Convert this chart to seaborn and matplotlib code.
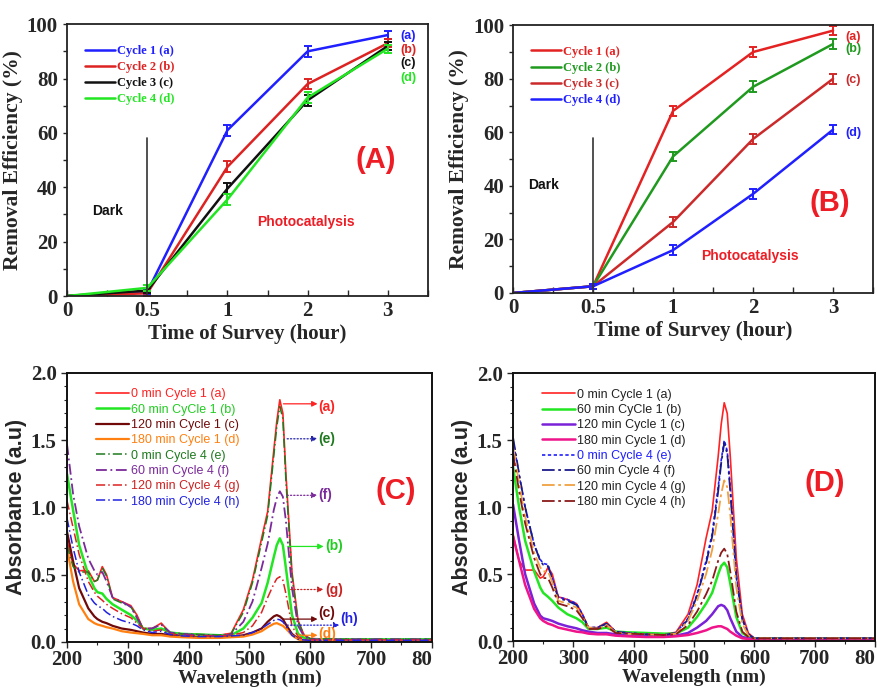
import numpy as np
import pandas as pd
import matplotlib
matplotlib.use("Agg")
import matplotlib.pyplot as plt
import seaborn as sns
from matplotlib.lines import Line2D
from matplotlib.ticker import MultipleLocator

sns.set_style("ticks")
plt.rcParams['font.family'] = ['Liberation Sans', 'DejaVu Sans']

# ---------------- data: panels A and B ----------------
time_labels = ['0', '0.5', '1', '2', '3']
A_names = ['Cycle 1 (a)', 'Cycle 2 (b)', 'Cycle 3 (c)', 'Cycle 4 (d)']
A_c1 = [0, 1.5, 61, 90, 96]
A_c2 = [0, 1.0, 47.5, 78, 93]
A_c3 = [0, 2.0, 39.5, 72, 92]
A_c4 = [0, 3.0, 35.5, 73, 91]
A_err = [0, 1.0, 2.0, 2.0, 1.5]

B_names = ['Cycle 1 (a)', 'Cycle 2 (b)', 'Cycle 3 (c)', 'Cycle 4 (d)']
B_c1 = [0, 2.5, 68, 90, 98]
B_c2 = [0, 2.5, 51, 77, 93]
B_c3 = [0, 2.5, 26.5, 57.5, 80]
B_c4 = [0, 2.5, 16, 37, 61]
B_err = [0, 1.0, 1.8, 2.0, 1.8]

# ---------------- data: panels C and D ----------------
wl = [200, 210, 220, 235, 245, 250, 258, 265, 275, 290, 305, 315, 325, 340, 355, 370, 390,
      420, 450, 470, 490, 505, 520, 530, 540, 545, 550, 555, 560, 570, 580, 590, 600, 650, 800]

C_labels = ['0 min Cycle 1 (a)', '60 min CyCle 1 (b)', '120 min Cycle 1 (c)', '180 min Cycle 1 (d)',
            '0 min Cycle 4 (e)', '60 min Cycle 4 (f)', '120 min Cycle 4 (g)', '180 min Cycle 4 (h)']
C_a = [0.75, 0.58, 0.53, 0.53, 0.45, 0.46, 0.56, 0.50, 0.33, 0.30, 0.27, 0.20, 0.10, 0.10, 0.14, 0.065, 0.06,
       0.055, 0.05, 0.065, 0.24, 0.46, 0.77, 0.97, 1.42, 1.64, 1.80, 1.70, 1.25, 0.52, 0.16, 0.05, 0.025, 0.02, 0.02]
C_b = [1.25, 0.98, 0.72, 0.50, 0.40, 0.37, 0.36, 0.32, 0.28, 0.24, 0.20, 0.16, 0.10, 0.09, 0.10, 0.07, 0.06,
       0.055, 0.05, 0.05, 0.10, 0.18, 0.29, 0.44, 0.63, 0.72, 0.77, 0.72, 0.55, 0.20, 0.06, 0.03, 0.02, 0.02, 0.02]
C_c = [0.82, 0.60, 0.40, 0.25, 0.19, 0.17, 0.15, 0.14, 0.12, 0.10, 0.09, 0.08, 0.07, 0.06, 0.06, 0.05, 0.04,
       0.035, 0.035, 0.04, 0.05, 0.07, 0.10, 0.15, 0.19, 0.20, 0.19, 0.17, 0.13, 0.06, 0.025, 0.01, 0.01, 0.01, 0.01]
C_d = [0.70, 0.45, 0.28, 0.17, 0.14, 0.13, 0.12, 0.11, 0.10, 0.08, 0.07, 0.065, 0.06, 0.05, 0.05, 0.04, 0.035,
       0.03, 0.03, 0.035, 0.04, 0.055, 0.08, 0.11, 0.135, 0.14, 0.13, 0.12, 0.10, 0.05, 0.02, 0.01, 0.01, 0.01, 0.01]
C_e = [0.72, 0.56, 0.52, 0.52, 0.45, 0.46, 0.55, 0.49, 0.32, 0.29, 0.26, 0.19, 0.10, 0.10, 0.13, 0.065, 0.06,
       0.055, 0.05, 0.06, 0.22, 0.44, 0.74, 0.94, 1.38, 1.60, 1.75, 1.66, 1.20, 0.49, 0.15, 0.05, 0.025, 0.02, 0.02]
C_f = [1.47, 1.10, 0.86, 0.62, 0.53, 0.50, 0.52, 0.45, 0.33, 0.30, 0.26, 0.18, 0.10, 0.10, 0.13, 0.07, 0.06,
       0.05, 0.045, 0.055, 0.15, 0.30, 0.55, 0.73, 0.98, 1.07, 1.12, 1.08, 0.90, 0.40, 0.12, 0.04, 0.02, 0.02, 0.02]
C_g = [1.05, 0.85, 0.65, 0.45, 0.37, 0.34, 0.31, 0.28, 0.25, 0.21, 0.18, 0.14, 0.10, 0.08, 0.09, 0.06, 0.05,
       0.045, 0.045, 0.05, 0.07, 0.12, 0.22, 0.33, 0.43, 0.47, 0.485, 0.46, 0.36, 0.12, 0.04, 0.02, 0.015, 0.015, 0.015]
C_h = [0.92, 0.70, 0.52, 0.35, 0.29, 0.27, 0.25, 0.22, 0.19, 0.16, 0.14, 0.12, 0.09, 0.07, 0.08, 0.055, 0.045,
       0.04, 0.04, 0.045, 0.05, 0.07, 0.10, 0.13, 0.16, 0.17, 0.165, 0.15, 0.12, 0.05, 0.02, 0.015, 0.012, 0.012, 0.012]

D_labels = C_labels
D_a = [0.80, 0.60, 0.53, 0.53, 0.47, 0.48, 0.55, 0.50, 0.33, 0.31, 0.28, 0.20, 0.10, 0.10, 0.14, 0.07, 0.06,
       0.055, 0.05, 0.065, 0.20, 0.42, 0.77, 0.97, 1.38, 1.62, 1.78, 1.70, 1.38, 0.62, 0.20, 0.06, 0.02, 0.02, 0.02]
D_b = [1.30, 1.00, 0.75, 0.52, 0.40, 0.36, 0.33, 0.30, 0.25, 0.20, 0.17, 0.14, 0.09, 0.09, 0.10, 0.07, 0.065,
       0.06, 0.055, 0.055, 0.10, 0.18, 0.28, 0.36, 0.50, 0.56, 0.585, 0.55, 0.43, 0.18, 0.06, 0.03, 0.02, 0.02, 0.02]
D_c = [1.02, 0.75, 0.50, 0.28, 0.19, 0.17, 0.16, 0.15, 0.13, 0.11, 0.095, 0.08, 0.07, 0.06, 0.06, 0.05, 0.04,
       0.035, 0.035, 0.04, 0.06, 0.10, 0.15, 0.20, 0.26, 0.27, 0.26, 0.23, 0.17, 0.07, 0.03, 0.02, 0.015, 0.015, 0.015]
D_d = [0.78, 0.60, 0.42, 0.24, 0.17, 0.15, 0.13, 0.12, 0.10, 0.085, 0.07, 0.065, 0.055, 0.05, 0.05, 0.04, 0.035,
       0.03, 0.03, 0.035, 0.045, 0.06, 0.08, 0.10, 0.11, 0.11, 0.10, 0.09, 0.07, 0.04, 0.02, 0.015, 0.01, 0.01, 0.01]
D_e = [1.50, 1.24, 1.00, 0.72, 0.61, 0.58, 0.57, 0.47, 0.33, 0.31, 0.28, 0.20, 0.10, 0.10, 0.13, 0.07, 0.06,
       0.05, 0.045, 0.06, 0.17, 0.35, 0.60, 0.80, 1.15, 1.35, 1.50, 1.42, 1.15, 0.50, 0.17, 0.05, 0.02, 0.02, 0.02]
D_f = [1.52, 1.25, 1.00, 0.72, 0.60, 0.57, 0.56, 0.46, 0.32, 0.30, 0.27, 0.19, 0.10, 0.10, 0.13, 0.07, 0.06,
       0.05, 0.045, 0.06, 0.16, 0.34, 0.58, 0.78, 1.12, 1.33, 1.48, 1.40, 1.12, 0.48, 0.16, 0.05, 0.02, 0.02, 0.02]
D_g = [1.45, 1.18, 0.93, 0.66, 0.55, 0.52, 0.52, 0.44, 0.30, 0.28, 0.25, 0.18, 0.10, 0.09, 0.12, 0.065, 0.055,
       0.05, 0.045, 0.055, 0.15, 0.30, 0.50, 0.68, 0.95, 1.10, 1.20, 1.15, 0.95, 0.40, 0.13, 0.04, 0.02, 0.02, 0.02]
D_h = [1.40, 1.12, 0.88, 0.62, 0.50, 0.47, 0.47, 0.40, 0.28, 0.26, 0.23, 0.17, 0.09, 0.09, 0.11, 0.06, 0.055,
       0.05, 0.045, 0.05, 0.12, 0.22, 0.35, 0.45, 0.60, 0.66, 0.69, 0.65, 0.52, 0.22, 0.07, 0.03, 0.02, 0.02, 0.02]

# ---------------- figure ----------------
fig = plt.figure(figsize=(8.77, 6.90), dpi=100)
axA = fig.add_axes([0.0764, 0.571, 0.4116, 0.394])
axB = fig.add_axes([0.585, 0.5754, 0.4105, 0.388])
axC = fig.add_axes([0.0764, 0.0696, 0.416, 0.39])
axD = fig.add_axes([0.585, 0.071, 0.4128, 0.388])

SERIF = 'Liberation Serif'
SANS = 'Liberation Sans'


def time_panel(ax, series, names, colors, err, end_labels, label_y, dark_xy, photo_xy, tag, tag_xy):
    xpos = list(range(len(time_labels)))
    for vals, name, col in zip(series, names, colors):
        sns.lineplot(x=xpos, y=vals, ax=ax, color=col, linewidth=1.8, legend=False)
        ax.errorbar(xpos[1:], vals[1:], yerr=err[1:], fmt='none', ecolor=col,
                    elinewidth=1.4, capsize=3, capthick=1.4)
    ax.plot([1, 1], [0, 58], color='#333333', linewidth=1.2)
    ax.set_xlim(0, 4.5)
    ax.set_ylim(0, 100)
    ax.set_xticks(xpos)
    ax.set_xticklabels(time_labels)
    ax.xaxis.set_minor_locator(MultipleLocator(0.5))
    ax.yaxis.set_minor_locator(MultipleLocator(10))
    ax.set_yticks([0, 20, 40, 60, 80, 100])
    ax.tick_params(axis='x', which='both', direction='in', length=4, width=1)
    ax.tick_params(axis='y', which='both', direction='out', length=3, width=1)
    for lab in ax.get_xticklabels() + ax.get_yticklabels():
        lab.set_fontfamily(SERIF)
        lab.set_fontweight('bold')
        lab.set_fontsize(15)
    ax.set_xlabel('Time of Survey (hour)', fontfamily=SERIF, fontweight='bold', fontsize=15, labelpad=2)
    ax.set_ylabel('Removal Efficiency (%)', fontfamily=SERIF, fontweight='bold', fontsize=15.5, labelpad=3)
    for s in ax.spines.values():
        s.set_linewidth(1.3)
        s.set_color('#222222')
    handles = [Line2D([0], [0], color=c, lw=1.8) for c in colors]
    leg = ax.legend(handles, names, loc='upper left', bbox_to_anchor=(0.02, 0.965), frameon=False,
                    handlelength=2.4, handletextpad=0.1, labelspacing=0.33,
                    prop={'family': SERIF, 'weight': 'bold', 'size': 9})
    for t, c in zip(leg.get_texts(), colors):
        t.set_color(c)
    for (txt, col), y in zip(end_labels, label_y):
        ax.text(4.15, y, txt, color=col, fontfamily=SANS, fontweight='bold', fontsize=9, va='center')
    ax.text(dark_xy[0], dark_xy[1], 'Dark', fontfamily=SANS, fontweight='bold', fontsize=10,
            ha='center', va='center', color='#111111')
    ax.text(photo_xy[0], photo_xy[1], 'Photocatalysis', fontfamily=SANS, fontweight='bold', fontsize=10,
            ha='center', va='center', color='#ee1c24')
    ax.text(tag_xy[0], tag_xy[1], tag, fontfamily=SANS, fontweight='bold', fontsize=21,
            ha='center', va='center', color='#ee1c24')


A_colors = ['#1f1fff', '#dd2222', '#111111', '#22e622']
time_panel(axA, [A_c1, A_c2, A_c3, A_c4], A_names, A_colors, A_err,
           [('(a)', A_colors[0]), ('(b)', A_colors[1]), ('(c)', A_colors[2]), ('(d)', A_colors[3])],
           [95.5, 90.5, 85.6, 80.3], (0.5, 31.3), (2.98, 27.3), '(A)', (3.85, 50))

B_colors = ['#e42222', '#1f9a1f', '#cc2a2a', '#1f1fff']
time_panel(axB, [B_c1, B_c2, B_c3, B_c4], B_names, B_colors, B_err,
           [('(a)', B_colors[0]), ('(b)', B_colors[1]), ('(c)', B_colors[2]), ('(d)', B_colors[3])],
           [95.6, 91.0, 79.5, 59.6], (0.38, 40.4), (2.96, 13.7), '(B)', (3.96, 33.5))


def spectra_panel(ax, series, labels, styles, text_colors, tag, tag_xy):
    for vals, lab, (col, ls, lw) in zip(series, labels, styles):
        sns.lineplot(x=wl, y=vals, ax=ax, color=col, linestyle=ls, linewidth=lw, legend=False)
    ax.set_xlim(200, 800)
    ax.set_ylim(0, 2.0)
    ax.set_xticks([200, 300, 400, 500, 600, 700, 800])
    ax.set_xticklabels(['200', '300', '400', '500', '600', '700', '80'])
    ax.set_yticks([0, 0.5, 1.0, 1.5, 2.0])
    ax.set_yticklabels(['0.0', '0.5', '1.0', '1.5', '2.0'])
    ax.xaxis.set_minor_locator(MultipleLocator(50))
    ax.yaxis.set_minor_locator(MultipleLocator(0.1))
    ax.tick_params(which='major', direction='out', length=4, width=1)
    ax.tick_params(which='minor', direction='out', length=2.5, width=0.8)
    ax.tick_params(axis='x', which='major', pad=1.5)
    for lab in ax.get_xticklabels() + ax.get_yticklabels():
        lab.set_fontfamily(SERIF)
        lab.set_fontweight('bold')
        lab.set_fontsize(15)
    xl = ax.get_xticklabels()
    xl[-1].set_horizontalalignment('right')
    ax.set_xlabel('Wavelength (nm)', fontfamily=SERIF, fontweight='bold', fontsize=14, labelpad=0)
    ax.set_ylabel('Absorbance (a.u)', fontfamily=SANS, fontweight='bold', fontsize=15.5, labelpad=3)
    for s in ax.spines.values():
        s.set_linewidth(1.4)
        s.set_color('#111111')
    handles = [Line2D([0], [0], color=c, linestyle=ls, lw=lw) for (c, ls, lw) in styles]
    leg = ax.legend(handles, labels, loc='upper left', bbox_to_anchor=(0.05, 0.985), frameon=False,
                    handlelength=2.6, handletextpad=0.2, labelspacing=0.27,
                    prop={'family': SANS, 'size': 9})
    for t, c in zip(leg.get_texts(), text_colors):
        t.set_color(c)
    ax.text(tag_xy[0], tag_xy[1], tag, fontfamily=SANS, fontweight='bold', fontsize=21,
            ha='center', va='center', color='#ee1c24')


C_styles = [('#ff2222', '-', 1.2), ('#22e622', '-', 1.8), ('#700a0a', '-', 1.6), ('#ff8010', '-', 1.6),
            ('#1f7a1f', (0, (6, 2, 1, 2)), 1.1), ('#7a2a9a', (0, (6, 2, 1, 2)), 1.3),
            ('#dd2222', (0, (6, 2, 1, 2)), 1.1), ('#2222e0', (0, (6, 2, 1, 2)), 1.1)]
C_text = ['#ff2222', '#22cc22', '#700a0a', '#ff8010', '#1f7a1f', '#7a2a9a', '#cc2222', '#2222e0']
spectra_panel(axC, [C_a, C_b, C_c, C_d, C_e, C_f, C_g, C_h], C_labels, C_styles, C_text,
              '(C)', (740, 1.12))

# arrows in panel C
arrowsC = [(556, 612, 1.77, '(a)', '#ff2222', '-', '#ff2222', 1.75),
           (562, 612, 1.51, '(e)', '#2222aa', ':', '#1f7a1f', 1.51),
           (562, 612, 1.09, '(f)', '#7a2a9a', ':', '#7a2a9a', 1.09),
           (563, 622, 0.71, '(b)', '#22e622', '-', '#22cc22', 0.71),
           (568, 622, 0.39, '(g)', '#cc2222', ':', '#cc2222', 0.39),
           (556, 612, 0.17, '(c)', '#700a0a', '-', '#700a0a', 0.215),
           (562, 648, 0.125, '(h)', '#2222e0', ':', '#2222e0', 0.17),
           (580, 612, 0.05, '(d)', '#ff8010', '-', '#ff8010', 0.06)]
for x0, x1, y, lab, acol, als, tcol, ty in arrowsC:
    axC.annotate('', xy=(x1, y), xytext=(x0, y),
                 arrowprops=dict(arrowstyle='-|>', color=acol, lw=0.9, linestyle=als,
                                 mutation_scale=8, shrinkA=0, shrinkB=0))
    axC.text(x1 + 2, ty, lab, color=tcol, fontfamily=SANS, fontweight='bold', fontsize=10,
             va='center', ha='left')

D_styles = [('#ff2222', '-', 1.2), ('#22e622', '-', 1.8), ('#7a22d8', '-', 1.8), ('#f0148a', '-', 1.8),
            ('#1f1fff', (0, (2, 1.5)), 1.2), ('#1a1a8a', (0, (7, 2, 1.5, 2)), 1.3),
            ('#f0a040', (0, (7, 2, 1.5, 2)), 1.3), ('#8a1a1a', (0, (7, 2, 1.5, 2)), 1.3)]
D_text = ['#222222', '#222222', '#222222', '#222222', '#1f1fff', '#222222', '#222222', '#222222']
spectra_panel(axD, [D_a, D_b, D_c, D_d, D_e, D_f, D_g, D_h], D_labels, D_styles, D_text,
              '(D)', (717, 1.18))

fig.savefig('out.png', dpi=100)
